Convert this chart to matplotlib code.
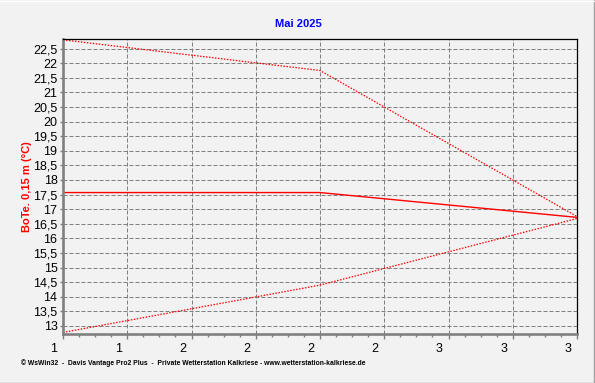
import matplotlib
matplotlib.use('Agg')
import numpy as np
import matplotlib.pyplot as plt
import matplotlib.ticker as mticker
import matplotlib.transforms as mtransforms
from matplotlib.lines import Line2D

# Bodentemperatur 0,15 m, Mai 2025 (Tag 1..3)
days = [1, 2, 3]
bote_max = [22.8, 21.75, 16.75]
bote_mean = [17.57, 17.57, 16.72]
bote_min = [12.78, 14.4, 16.68]

title = 'Mai 2025'
ylabel = 'BoTe. 0,15 m (°C)'
footer = ('© WsWin32  -  Davis Vantage Pro2 Plus  -  Private Wetterstation Kalkriese'
          ' - www.wetterstation-kalkriese.de')
yticks = np.arange(13, 22.51, 0.5)
xticks = np.arange(1, 3.01, 0.25)
xtick_labels = ['1', '1', '2', '2', '2', '2', '3', '3', '3']

plt.rcParams['font.family'] = ['Liberation Sans', 'DejaVu Sans']
bg = '#f2f2f2'
grey = '#808080'

fig = plt.figure(figsize=(5.95, 3.83), dpi=100, facecolor=bg)
ax = fig.add_axes([63 / 595, 49.5 / 383, 514 / 595, 295 / 383], facecolor=bg)

ax.plot(days, bote_max, color='red', lw=0.9, dashes=(1.2, 1.2))
ax.plot(days, bote_min, color='red', lw=0.9, dashes=(1.2, 1.2))
ax.plot(days, bote_mean, color='red', lw=1.0)

ax.set_xlim(1, 3)
ax.set_ylim(12.743, 22.846)

ax.set_yticks(yticks)
ax.yaxis.set_major_formatter(mticker.FuncFormatter(
    lambda v, p: ('%g' % v).replace('.', ',')))
ax.set_xticks(xticks)
ax.set_xticklabels(xtick_labels)
ax.xaxis.set_minor_locator(mticker.MultipleLocator(0.0625))

ax.grid(True, which='major', color=grey, lw=0.72, dashes=(4, 2))
ax.set_axisbelow(True)

ax.tick_params(axis='y', which='major', length=2, width=1, color=grey,
               labelsize=9, pad=2)
ax.tick_params(axis='x', which='major', length=3.6, width=1, color=grey,
               labelsize=9, pad=3)
ax.tick_params(axis='x', which='minor', length=2.2, width=1, color=grey)

off = mtransforms.ScaledTranslation(-9 / 100, 0, fig.dpi_scale_trans)
for lab in ax.get_xticklabels():
    lab.set_transform(lab.get_transform() + off)

for s in ['left', 'bottom']:
    ax.spines[s].set_color(grey)
    ax.spines[s].set_linewidth(1.9)
for s in ['top', 'right']:
    ax.spines[s].set_color('black')
    ax.spines[s].set_linewidth(0.9)

fig.text(298 / 595, 1 - 24 / 383, title, color='#0000ff', fontsize=8,
         fontweight='bold', ha='center', va='center')
fig.text(27 / 595, 1 - 187 / 383, ylabel, color='red', fontsize=8,
         fontweight='bold', rotation=90, ha='center', va='center')
fig.text(21 / 595, 1 - 363 / 383, footer, color='black', fontsize=4.9,
         fontweight='bold', ha='left', va='center')

# Rahmen
fig.add_artist(Line2D([0, 1], [0.5 / 383, 0.5 / 383], color='#a0a0a0', lw=1,
                      transform=fig.transFigure))
fig.add_artist(Line2D([1 - 1.5 / 595, 1 - 1.5 / 595], [0, 1], color='#a0a0a0',
                      lw=1, transform=fig.transFigure))
fig.add_artist(Line2D([0, 1], [1 - 0.5 / 383, 1 - 0.5 / 383], color='white',
                      lw=1, transform=fig.transFigure))

fig.savefig('out.png', dpi=100, facecolor=bg)
